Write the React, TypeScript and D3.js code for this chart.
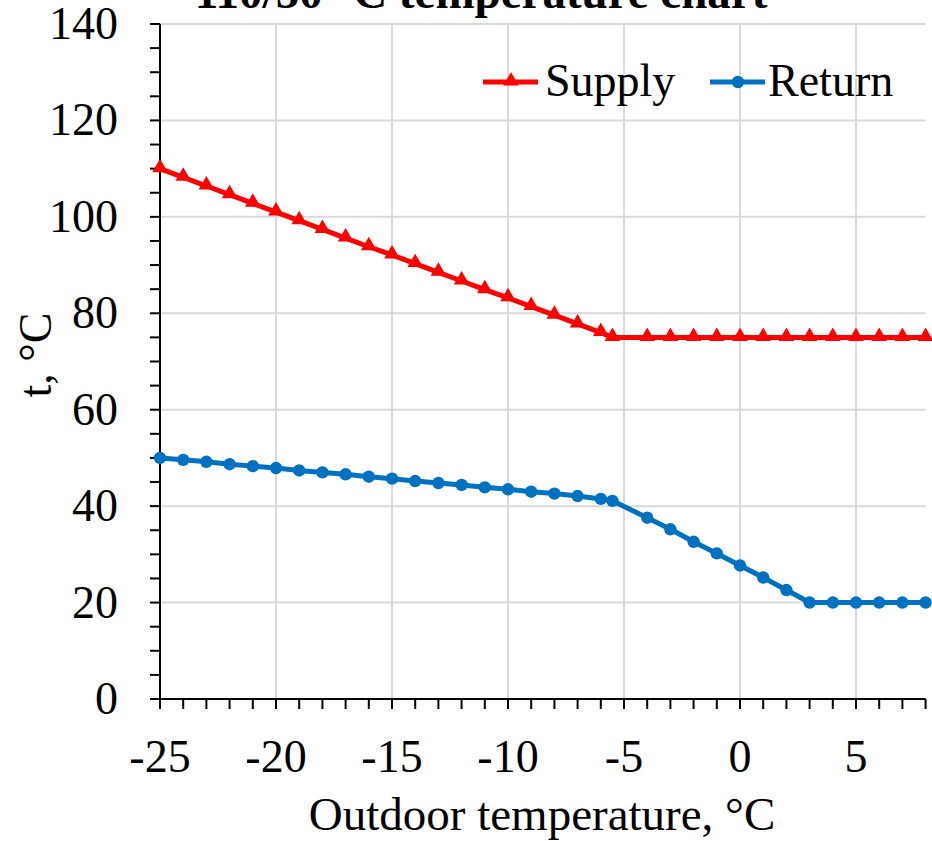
import React from "react";
import * as d3 from "d3";

// Outdoor temperatures (°C) at which the schedule is given
const outdoorTemps = [
  -25, -24, -23, -22, -21, -20, -19, -18, -17, -16, -15, -14, -13, -12, -11, -10,
  -9, -8, -7, -6, -5.5, -4, -3, -2, -1, 0, 1, 2, 3, 4, 5, 6, 7, 8,
];

// Supply water temperature (°C)
const supplyTemps = [
  110, 108.2, 106.4, 104.6, 102.8, 101.0, 99.2, 97.4, 95.6, 93.8, 92.1, 90.3, 88.5,
  86.7, 84.9, 83.2, 81.4, 79.6, 77.8, 76.0, 75, 75, 75, 75, 75, 75, 75, 75, 75, 75,
  75, 75, 75, 75,
];

// Return water temperature (°C)
const returnTemps = [
  50, 49.6, 49.2, 48.7, 48.3, 47.9, 47.4, 47.0, 46.6, 46.1, 45.7, 45.2, 44.8, 44.4,
  43.9, 43.5, 43.0, 42.6, 42.1, 41.5, 41.1, 37.6, 35.2, 32.6, 30.2, 27.7, 25.2,
  22.6, 20, 20, 20, 20, 20, 20,
];

const xMajorTicks = [-25, -20, -15, -10, -5, 0, 5];
const yMajorTicks = [0, 20, 40, 60, 80, 100, 120, 140];

const seriesNames = ["Supply", "Return"];
const seriesColors = ["#FF0000", "#0070C0"];

const W = 932;
const H = 841;
const FONT = "'Liberation Serif', 'Times New Roman', serif";

export default function App() {
  const left = 160;
  const right = 925.6;
  const top = 24;
  const bottom = 699;

  const x = d3.scaleLinear().domain([-25, 8]).range([left, right]);
  const y = d3.scaleLinear().domain([0, 140]).range([bottom, top]);

  const xMinor = d3.range(-25, 9, 1);
  const yMinor = d3.range(0, 141, 5);

  const supply = outdoorTemps.map((t, i) => [t, supplyTemps[i]] as [number, number]);
  const ret = outdoorTemps.map((t, i) => [t, returnTemps[i]] as [number, number]);

  const line = d3
    .line<[number, number]>()
    .x((d) => x(d[0]))
    .y((d) => y(d[1]));

  const tri = d3.symbol().type(d3.symbolTriangle).size(105)();
  const markerR = 6.2;
  const lineW = 5;

  return (
    <svg
      width={W}
      height={H}
      style={{ display: "block", position: "absolute", left: 0, top: 0 }}
      fontFamily={FONT}
    >
      <rect width={W} height={H} fill="#fff" />

      {/* grid */}
      {xMajorTicks
        .filter((t) => t !== -25)
        .map((t) => (
          <line key={"gx" + t} x1={x(t)} x2={x(t)} y1={top} y2={bottom} stroke="#d9d9d9" strokeWidth={2} />
        ))}
      {yMajorTicks
        .filter((t) => t !== 0)
        .map((t) => (
          <line key={"gy" + t} x1={left} x2={right} y1={y(t)} y2={y(t)} stroke="#d9d9d9" strokeWidth={2} />
        ))}

      {/* axes */}
      <line x1={left} x2={left} y1={top} y2={bottom} stroke="#000" strokeWidth={2} />
      <line x1={left - 10} x2={right} y1={bottom} y2={bottom} stroke="#000" strokeWidth={2} />
      {xMinor.map((t) => (
        <line key={"tx" + t} x1={x(t)} x2={x(t)} y1={bottom} y2={bottom + 10} stroke="#000" strokeWidth={2} />
      ))}
      {yMinor.map((t) => (
        <line key={"ty" + t} x1={left - 10} x2={left} y1={y(t)} y2={y(t)} stroke="#000" strokeWidth={2} />
      ))}

      {/* tick labels */}
      {xMajorTicks.map((t) => (
        <text key={"lx" + t} x={x(t)} y={772} fontSize={46} textAnchor="middle" fill="#000">
          {t}
        </text>
      ))}
      {yMajorTicks.map((t) => (
        <text key={"ly" + t} x={118} y={y(t) + 15} fontSize={46} textAnchor="end" fill="#000">
          {t}
        </text>
      ))}

      {/* axis titles */}
      <text x={542} y={830} fontSize={47} textAnchor="middle" fill="#000">
        Outdoor temperature, °C
      </text>
      <text
        transform={`translate(51,355) rotate(-90)`}
        fontSize={46}
        textAnchor="middle"
        fill="#000"
      >
        t, °C
      </text>

      {/* chart title */}
      <text x={481} y={8} fontSize={47} fontWeight="bold" textAnchor="middle" fill="#000">
        110/50 °C temperature chart
      </text>

      {/* series */}
      <path d={line(supply) ?? ""} fill="none" stroke={seriesColors[0]} strokeWidth={lineW} strokeLinejoin="round" />
      {supply.map((d, i) => (
        <path key={"ms" + i} d={tri ?? ""} transform={`translate(${x(d[0])},${y(d[1]) - 1})`} fill={seriesColors[0]} />
      ))}
      <path d={line(ret) ?? ""} fill="none" stroke={seriesColors[1]} strokeWidth={lineW} strokeLinejoin="round" />
      {ret.map((d, i) => (
        <circle key={"mr" + i} cx={x(d[0])} cy={y(d[1])} r={markerR} fill={seriesColors[1]} />
      ))}

      {/* legend */}
      <line x1={483} x2={538} y1={82} y2={82} stroke={seriesColors[0]} strokeWidth={lineW} />
      <path d={tri ?? ""} transform="translate(511,81)" fill={seriesColors[0]} />
      <text x={545} y={96} fontSize={46} fill="#000">
        {seriesNames[0]}
      </text>
      <line x1={710} x2={765} y1={82} y2={82} stroke={seriesColors[1]} strokeWidth={lineW} />
      <circle cx={738} cy={82} r={markerR} fill={seriesColors[1]} />
      <text x={768} y={96} fontSize={46} fill="#000">
        {seriesNames[1]}
      </text>
    </svg>
  );
}
